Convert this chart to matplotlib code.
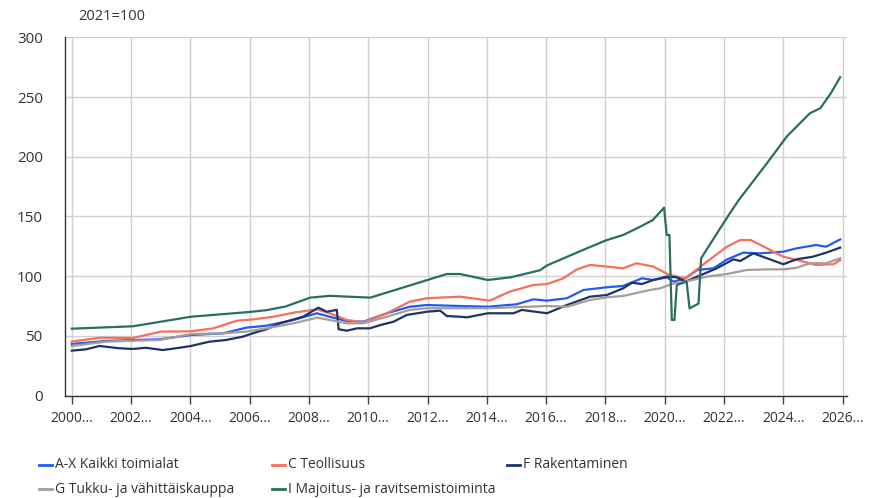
import matplotlib.pyplot as plt
from matplotlib.lines import Line2D

plt.rcParams['font.family'] = ['Open Sans', 'DejaVu Sans']

# A-X Kaikki toimialat
ax_years = [2000.0, 2001.16, 2002.06, 2002.96, 2004.02, 2005.1, 2005.88, 2006.56, 2007.48, 2008.27,
            2008.7, 2009.28, 2009.84, 2010.63, 2011.4, 2011.98, 2013.1, 2014.03, 2015.0, 2015.57,
            2016.03, 2016.7, 2017.26, 2018.05, 2018.6, 2019.23, 2019.62, 2020.07, 2020.3, 2020.7,
            2021.1, 2021.65, 2022.1, 2022.65, 2023.2, 2024.0, 2024.45, 2025.1, 2025.45, 2025.92]
ax_vals = [43.2, 45.7, 46.5, 47.1, 50.7, 52.1, 56.8, 58.5, 63.3, 68.9,
           66.0, 62.4, 61.9, 68.9, 74.4, 75.8, 75.0, 74.4, 76.4, 80.6,
           79.5, 81.5, 88.4, 90.7, 91.8, 98.2, 96.8, 99.0, 95.4, 98.2,
           105.2, 106.6, 114.0, 119.7, 119.1, 120.5, 123.3, 126.1, 124.7, 130.8]

# C Teollisuus
c_years = [2000.0, 2000.95, 2002.06, 2003.0, 2004.02, 2004.78, 2005.57, 2006.13, 2006.8, 2007.48,
           2008.27, 2008.7, 2009.28, 2009.84, 2010.63, 2011.4, 2011.98, 2013.1, 2014.1, 2014.77,
           2015.57, 2016.03, 2016.58, 2017.04, 2017.48, 2018.05, 2018.6, 2019.05, 2019.62, 2020.16,
           2020.7, 2021.42, 2022.1, 2022.55, 2022.9, 2023.45, 2024.0, 2024.7, 2025.1, 2025.7, 2025.92]
c_vals = [45.2, 48.4, 48.2, 53.5, 53.8, 56.3, 62.7, 63.8, 66.0, 69.4,
          72.2, 68.9, 63.3, 61.3, 68.9, 78.6, 81.5, 82.8, 79.5, 87.0,
          92.6, 93.4, 98.2, 105.7, 109.4, 108.0, 106.6, 110.8, 108.0, 101.0,
          98.2, 112.0, 124.7, 130.3, 130.3, 123.3, 116.3, 112.0, 109.4, 110.0, 113.5]

# F Rakentaminen
f_years = [2000.0, 2000.48, 2000.93, 2001.6, 2002.06, 2002.5, 2003.07, 2003.63, 2004.02, 2004.64,
           2005.2, 2005.77, 2006.1, 2006.56, 2007.03, 2007.8, 2008.32, 2008.6, 2008.94, 2009.0,
           2009.28, 2009.62, 2010.06, 2010.4, 2010.85, 2011.3, 2011.98, 2012.43, 2012.65, 2013.1,
           2013.33, 2014.03, 2014.9, 2015.18, 2016.03, 2016.7, 2017.48, 2018.05, 2018.6, 2018.9,
           2019.23, 2019.62, 2020.07, 2020.41, 2020.7, 2021.1, 2021.76, 2022.32, 2022.55, 2022.99,
           2023.45, 2024.0, 2024.45, 2025.0, 2025.45, 2025.92]
f_vals = [37.6, 38.7, 41.5, 39.6, 39.0, 40.0, 38.1, 40.0, 41.5, 45.1,
          46.5, 49.3, 52.1, 55.5, 60.5, 66.0, 73.6, 70.2, 71.7, 55.5,
          54.3, 56.3, 56.3, 59.0, 61.8, 67.5, 70.2, 71.1, 66.6, 66.0,
          65.5, 68.9, 68.9, 71.7, 68.9, 75.8, 82.8, 84.2, 89.8, 94.5,
          93.4, 96.8, 99.6, 99.0, 95.4, 99.6, 106.6, 114.1, 112.7, 119.1,
          115.0, 110.0, 114.1, 116.3, 119.7, 123.9]

# G Tukku- ja vähittäiskauppa
g_years = [2000.0, 2001.16, 2002.06, 2002.96, 2004.02, 2005.1, 2005.88, 2006.56, 2007.48, 2008.27,
           2008.7, 2009.28, 2009.84, 2010.63, 2011.4, 2011.98, 2013.1, 2014.03, 2015.0, 2016.03,
           2016.7, 2017.48, 2018.05, 2018.6, 2019.5, 2019.85, 2020.3, 2020.7, 2021.42, 2022.1,
           2022.78, 2023.45, 2024.0, 2024.45, 2024.9, 2025.45, 2025.92]
g_vals = [41.5, 45.1, 45.9, 46.5, 51.5, 52.1, 53.5, 56.3, 60.5, 65.2,
          63.3, 60.5, 60.5, 66.0, 71.7, 73.1, 73.1, 73.1, 74.0, 75.0,
          74.4, 80.0, 82.3, 83.4, 88.4, 89.8, 94.0, 95.4, 99.6, 101.8,
          105.2, 105.7, 105.7, 107.0, 110.8, 110.8, 115.0]

# I Majoitus- ja ravitsemistoiminta
i_years = [2000.0, 2002.06, 2004.02, 2006.0, 2006.56, 2007.2, 2008.04, 2008.7, 2010.07, 2012.0,
           2012.65, 2013.1, 2014.03, 2014.8, 2015.8, 2016.03, 2017.25, 2018.02, 2018.6, 2019.18,
           2019.6, 2019.98, 2020.07, 2020.16, 2020.24, 2020.33, 2020.41, 2020.74, 2020.84, 2021.14,
           2021.23, 2021.87, 2022.2, 2022.5, 2023.45, 2024.12, 2024.9, 2025.25, 2025.6, 2025.92]
i_vals = [56.0, 58.0, 66.0, 70.0, 71.5, 74.5, 82.0, 83.5, 82.0, 96.8,
          101.8, 101.8, 96.8, 99.0, 105.0, 109.0, 122.0, 130.0, 134.5, 141.5,
          147.0, 157.4, 134.5, 134.5, 63.3, 63.3, 92.6, 95.4, 73.0, 77.0,
          115.0, 140.0, 152.7, 163.8, 194.6, 217.0, 236.5, 240.7, 253.0, 266.7]

series = [
    ('A-X Kaikki toimialat', ax_years, ax_vals, '#1f5cf2'),
    ('C Teollisuus', c_years, c_vals, '#f4705a'),
    ('F Rakentaminen', f_years, f_vals, '#1f3366'),
    ('G Tukku- ja vähittäiskauppa', g_years, g_vals, '#a89c96'),
    ('I Majoitus- ja ravitsemistoiminta', i_years, i_vals, '#2b6d60'),
]

tick_years = list(range(2000, 2027, 2))
y_ticks = [0, 50, 100, 150, 200, 250, 300]

fig = plt.figure(figsize=(8.76, 4.98), dpi=100)
ax = fig.add_axes([0.0742, 0.2058, 0.893, 0.719])

for name, xs, ys, col in series:
    ax.plot(xs, ys, color=col, lw=1.6, label=name, zorder=3)

ax.set_xlim(1999.77, 2026.16)
ax.set_ylim(0, 300)
ax.set_xticks(tick_years)
ax.set_xticklabels([f'{y}...' for y in tick_years], fontsize=10, color='#333333')
ax.set_yticks(y_ticks)
ax.set_yticklabels([str(v) for v in y_ticks], fontsize=11, color='#333333')
ax.tick_params(axis='y', length=0, pad=16)
ax.tick_params(axis='x', length=6, width=1, color='#444444', pad=5, direction='out')
ax.grid(True, color='#d0d0d0', lw=1, zorder=0)
ax.set_axisbelow(True)
for s in ['top', 'right']:
    ax.spines[s].set_visible(False)
for s in ['left', 'bottom']:
    ax.spines[s].set_color('#333333')
    ax.spines[s].set_linewidth(1)

fig.text(78 / 876, 1 - 17 / 498, '2021=100', fontsize=10.5, color='#333333', va='center', ha='left')

# legend, three fixed columns
col_x = [39, 272, 507]
row_y = [465, 489]
for k, (name, xs, ys, col) in enumerate(series):
    r, c = divmod(k, 3)
    x0 = col_x[c]
    y0 = 1 - row_y[r] / 498
    fig.add_artist(Line2D([x0 / 876, (x0 + 13) / 876], [y0, y0], color=col, lw=2,
                          transform=fig.transFigure))
    fig.text((x0 + 16) / 876, y0, name, fontsize=10, color='#333333', va='center', ha='left')

fig.savefig('out.png', dpi=100)
